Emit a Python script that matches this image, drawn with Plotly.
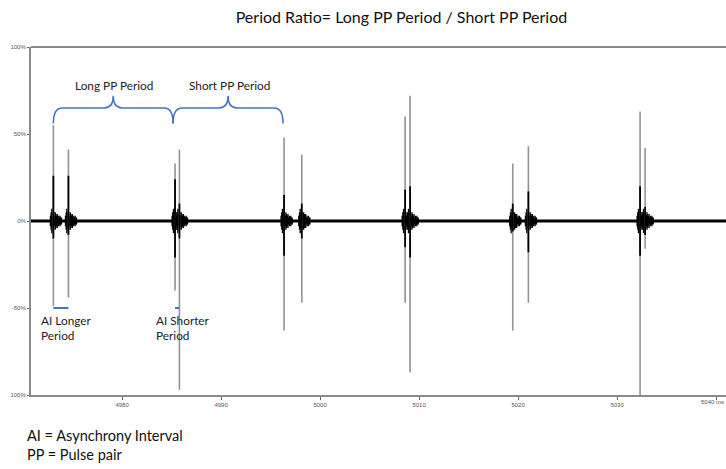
import plotly.graph_objects as go

# ---- data (ms, % amplitude) ----
spike_x = [4973.06, 4974.58, 4985.35, 4985.79, 4996.36, 4998.15,
           5008.59, 5009.09, 5019.46, 5021.04, 5032.32, 5032.83]
spike_top = [55, 41, 33, 41, 48, 38, 60, 72, 33, 43, 63, 42]
spike_bottom = [-49, -44, -40, -97, -63, -47, -47, -87, -63, -47, -100, -16]
dark_top = [26, 26, 24, 10, 15, 10, 18, 20, 10, 17, 20, 8]
dark_bottom = [-10, -8, -21, -10, -20, -10, -15, -21, -6, -18, -20, -8]
burst_env = [3, 5, 7, 4, 6, 5, 3, 5, 4, 3, 4, 2, 3, 2, 3, 2, 2]

x_ticks = [4980, 4990, 5000, 5010, 5020, 5030]
x_labels = ["4980", "4990", "5000", "5010", "5020", "5030"]
x_last_tick = 5040
x_last_label = "5040 ms"
y_ticks = [100, 50, 0, -50, -100]
y_labels = ["100%", "50%", "0%", "-50%", "100%"]

x_range = [4970.8, 5041.0]

fig = go.Figure()

# baseline noise band
fig.add_trace(go.Scatter(x=x_range, y=[0, 0], mode="lines",
                         line=dict(color="black", width=3), hoverinfo="skip"))

# noise bursts around spikes
bx, by = [], []
for sx in spike_x:
    for i, a in enumerate(burst_env):
        xx = sx - 0.3 + i * 0.07
        bx += [xx, xx, None]
        by += [-a, a, None]
fig.add_trace(go.Scatter(x=bx, y=by, mode="lines",
                         line=dict(color="black", width=1.3), hoverinfo="skip"))

# gray full-extent spikes
gx, gy = [], []
for sx, t, b in zip(spike_x, spike_top, spike_bottom):
    gx += [sx, sx, None]
    gy += [b, t, None]
fig.add_trace(go.Scatter(x=gx, y=gy, mode="lines",
                         line=dict(color="#939393", width=1.6), hoverinfo="skip"))

# dark inner parts
dx, dy = [], []
for sx, t, b in zip(spike_x, dark_top, dark_bottom):
    dx += [sx, sx, None]
    dy += [b, t, None]
fig.add_trace(go.Scatter(x=dx, y=dy, mode="lines",
                         line=dict(color="black", width=1.8), hoverinfo="skip"))

blue = "#4472C4"

# AI markers
ai_y = -50
for i0, i1 in [(0, 1), (2, 3)]:
    fig.add_trace(go.Scatter(x=[spike_x[i0], spike_x[i1]], y=[ai_y, ai_y], mode="lines",
                             line=dict(color=blue, width=2), hoverinfo="skip"))

# curly brackets
def brace(x0, x1, y0, y1, yp):
    xm = (x0 + x1) / 2
    r = 0.9
    return (f"M {x0},{y0} Q {x0},{y1} {x0 + r},{y1} L {xm - r},{y1} "
            f"Q {xm},{y1} {xm},{yp} Q {xm},{y1} {xm + r},{y1} "
            f"L {x1 - r},{y1} Q {x1},{y1} {x1},{y0}")

br_y0, br_y1, br_yp = 56, 65, 72
fig.add_shape(type="path", xref="x", yref="y",
              path=brace(spike_x[0], spike_x[2] - 0.2, br_y0, br_y1, br_yp),
              line=dict(color=blue, width=1.5))
fig.add_shape(type="path", xref="x", yref="y",
              path=brace(spike_x[2] - 0.2, spike_x[4] - 0.1, br_y0, br_y1, br_yp),
              line=dict(color=blue, width=1.5))

font = "Lato, 'Open Sans', sans-serif"
fig.add_annotation(x=(spike_x[0] + spike_x[2]) / 2, y=78, text="Long PP Period",
                   showarrow=False, xref="x", yref="y",
                   font=dict(family=font, size=11.8, color="#222"))
fig.add_annotation(x=(spike_x[2] + spike_x[4]) / 2, y=78, text="Short PP Period",
                   showarrow=False, xref="x", yref="y",
                   font=dict(family=font, size=11.8, color="#222"))
fig.add_annotation(x=spike_x[0] - 1.45, y=-52, text="AI Longer<br>Period",
                   showarrow=False, xref="x", yref="y", xanchor="left", yanchor="top",
                   align="left", font=dict(family=font, size=11.8, color="#222"))
fig.add_annotation(x=spike_x[2] - 2.15, y=-52, text="AI Shorter<br>Period",
                   showarrow=False, xref="x", yref="y", xanchor="left", yanchor="top",
                   align="left", font=dict(family=font, size=11.8, color="#222"))

# last x tick label, kept inside the window edge
fig.add_annotation(x=x_last_tick, y=0, xref="x", yref="paper", yanchor="top",
                   yshift=-2, xshift=-4, text=x_last_label, showarrow=False,
                   font=dict(family="Arial", size=6, color="#555"))

fig.add_annotation(x=-0.008, y=-0.085, xref="paper", yref="paper", xanchor="left",
                   yanchor="top", align="left",
                   text="AI = Asynchrony Interval<br>PP = Pulse pair", showarrow=False,
                   font=dict(family=font, size=14.5, color="#111"))

fig.update_layout(
    width=726, height=469,
    margin=dict(l=31, r=0, t=47, b=74),
    paper_bgcolor="white", plot_bgcolor="white",
    showlegend=False,
    title=dict(text="Period Ratio= Long PP Period / Short PP Period",
               x=0.553, xanchor="center", y=0.963, yanchor="middle",
               font=dict(family=font, size=16, color="#111")),
    xaxis=dict(range=x_range, tickvals=x_ticks + [x_last_tick],
               ticktext=x_labels + [""],
               showgrid=False, zeroline=False, showline=True, mirror=False,
               linecolor="#8a8a8a", linewidth=2, ticks="outside", ticklen=3,
               tickcolor="#666", tickfont=dict(family="Arial", size=6, color="#555")),
    yaxis=dict(range=[-100, 100], tickvals=y_ticks, ticktext=y_labels,
               showgrid=False, zeroline=False, showline=True,
               linecolor="#8a8a8a", linewidth=2, ticks="outside", ticklen=2,
               tickcolor="#666", tickfont=dict(family="Arial", size=6, color="#555")),
)
# top border line
fig.add_shape(type="line", xref="paper", yref="paper", x0=0, x1=1, y0=1, y1=1,
              line=dict(color="#8a8a8a", width=2))

fig.write_html("out.html")
